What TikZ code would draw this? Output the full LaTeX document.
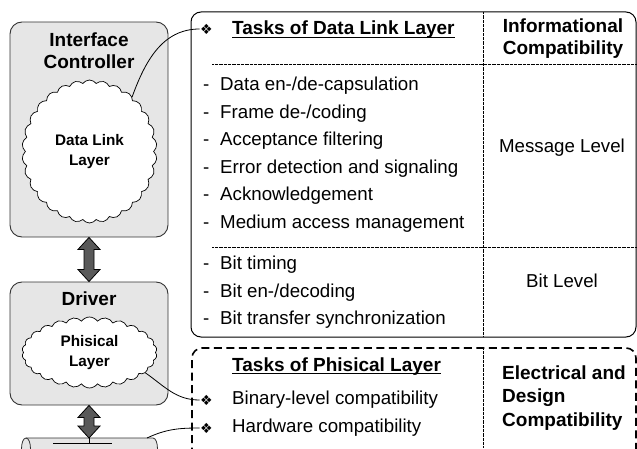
\documentclass[tikz,border=0pt]{standalone}
\usepackage{fontspec}
\setmainfont{Liberation Sans}
\newfontfamily\symfont{DejaVu Sans}
\usetikzlibrary{shapes.symbols,calc}
\definecolor{panelgray}{HTML}{E6E6E6}
\definecolor{arrowgray}{HTML}{595959}
\definecolor{edgegray}{HTML}{333333}
\begin{document}
\begin{tikzpicture}[x=1pt,y=1pt,
  panel/.style={draw=edgegray, line width=0.9pt, fill=panelgray, rounded corners=12pt, inner sep=0},
  puff/.style={cloud, draw=black, line width=0.7pt, fill=white, cloud puffs=#1, cloud puff arc=110, cloud ignores aspect, inner sep=0, align=center, font=\fontsize{15.3}{19.5}\selectfont\bfseries},
  title/.style={font=\fontsize{19}{22}\selectfont\bfseries, align=center, inner sep=0},
  bigarrow/.style={draw=black, line width=0.8pt, fill=arrowgray, line join=miter},
  item/.style={anchor=west, inner sep=0, font=\fontsize{18.7}{22}\selectfont, text height=13.4pt, text depth=3.9pt},
  heading/.style={anchor=base west, inner sep=0, font=\fontsize{19}{22}\selectfont\bfseries},
  bul/.style={inner sep=0.5pt, font=\symfont\fontsize{14}{14}\selectfont},
  link/.style={draw=black, line width=0.8pt},
  sepline/.style={draw=black, line width=1pt, dash pattern=on 0.8pt off 0.5pt},
  frame/.style={draw=black, line width=1pt, rounded corners=10pt},
  phyframe/.style={draw=black, line width=1.6pt, dash pattern=on 8pt off 4.5pt, rounded corners=10pt},
  cable/.style={draw=edgegray, line width=0.8pt, fill=panelgray},
]
\useasboundingbox (0,0) rectangle (637,448);
\clip (0,0) rectangle (637,448);

% left column
\node[panel, minimum width=158pt, minimum height=215pt] (box1) at (89,318.5) {};
\node[panel, minimum width=158pt, minimum height=123pt] (box2) at (89,104.5) {};
\node[title] (t1) at (89,397) {Interface\\Controller};
\node[title] (t2) at (89,149) {Driver};
\node[puff=30, minimum width=135pt, minimum height=143pt] (cl1) at (89.5,296.5) {Data Link\\Layer};
\node[puff=26, minimum width=135pt, minimum height=71pt] (cl2) at (89.5,95.5) {Phisical\\Layer};

\coordinate (cabtop) at (89,10);
\coordinate (cabR) at (147,10);
\draw[cable] (26,10) -- (153,10) .. controls (159,10) and (159,-12) .. (153,-12) -- (26,-12) .. controls (20,-12) and (20,10) .. (26,10) -- cycle;
\draw[cable, fill=none] (26,10) .. controls (32,10) and (32,-12) .. (26,-12);
\draw[line width=0.8pt] (cabtop) -- ++(0,-5) coordinate (tee);
\draw[line width=0.8pt] (53,5) -- (112,5);

\draw[bigarrow] (box1.south) -- ++(11,-12) -- ++(-6,0) -- ($(box2.north)+(5,12)$) -- ++(6,0) -- (box2.north) -- ++(-11,12) -- ++(6,0) -- ($(box1.south)+(-5,-12)$) -- ++(-6,0) -- cycle;
\draw[bigarrow] (box2.south) -- ++(11,-12) -- ++(-6,0) -- ($(cabtop)+(5,12)$) -- ++(6,0) -- (cabtop) -- ++(-11,12) -- ++(6,0) -- ($(box2.south)+(-5,-12)$) -- ++(-6,0) -- cycle;

% right upper table
\node[frame, minimum width=445pt, minimum height=325pt, inner sep=0] (dll) at (413.5,273.5) {};
\draw[sepline] (483,436) -- (483,111);
\draw[sepline] (212,383) -- (636,383);
\draw[sepline] (212,201) -- (636,201);

\node[bul] (b1) at (206.5,419) {❖};
\node[heading] (h1) at (232,413) {Tasks of Data Link Layer};
\draw[line width=1.1pt] ($(h1.base west)+(0,-2.8)$) -- ($(h1.base east)+(0,-2.8)$);

\foreach \t [count=\i] in {Data en-/de-capsulation, Frame de-/coding, Acceptance filtering, Error detection and signaling, Acknowledgement, Medium access management} {
  \node[item] (dm\i) at (203,{362-27.5*(\i-1)}) {-};
  \node[item] (m\i) at (220,{362-27.5*(\i-1)}) {\t};
}
\foreach \t [count=\i] in {Bit timing, Bit en-/decoding, Bit transfer synchronization} {
  \node[item] (db\i) at (203,{183-27.5*(\i-1)}) {-};
  \node[item] (bt\i) at (220,{183-27.5*(\i-1)}) {\t};
}

\node[title] (ic) at (563,409) {Informational\\Compatibility};
\node[item, anchor=center] (ml) at (562,300) {Message Level};
\node[item, anchor=center] (bl) at (562,165) {Bit Level};

% physical layer block
\draw[phyframe] (192,-20) -- (192,100) -- (636,100) -- (636,-20);
\draw[sepline] (483,100) -- (483,0);
\node[heading] (h2) at (232,77) {Tasks of Phisical Layer};
\draw[line width=1.1pt] ($(h2.base west)+(0,-2.8)$) -- ($(h2.base east)+(0,-2.8)$);
\node[bul] (b2) at (206.5,48) {❖};
\node[item] (p1) at (232,48) {Binary-level compatibility};
\node[bul] (b3) at (206.5,20) {❖};
\node[item] (p2) at (232,20) {Hardware compatibility};
\node[title, font=\fontsize{19}{23.5}\selectfont\bfseries, align=left, anchor=west] (ec) at (502,50) {Electrical and\\Design\\Compatibility};

% connectors
\draw[link] (cl1.52) to[out=70, in=180] (b1.west);
\draw[link] (cl2.-20) to[out=-35, in=180] (b2.west);
\draw[link] (cabR) to[out=25, in=180] (b3.west);
\end{tikzpicture}
\end{document}
